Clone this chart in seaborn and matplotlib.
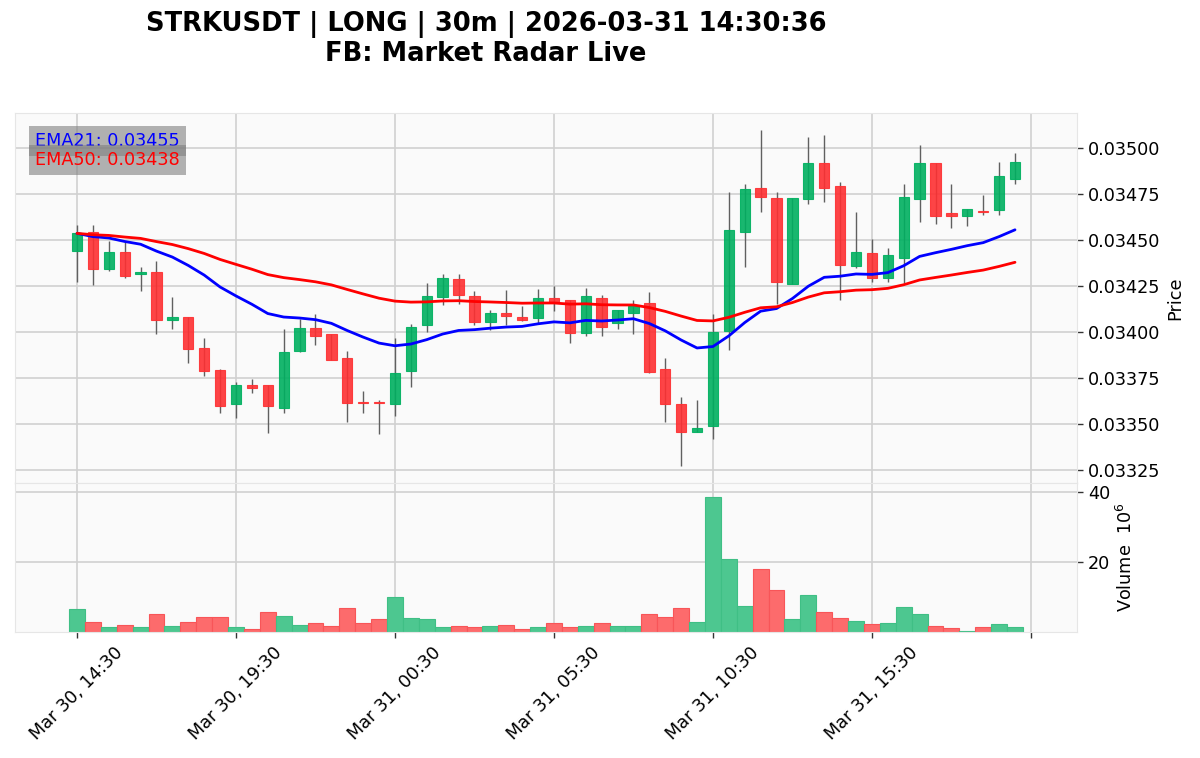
import numpy as np
import pandas as pd
import matplotlib
matplotlib.use("Agg")
import matplotlib.pyplot as plt
import seaborn as sns

# DATA (30m candles)
opens = [0.034441, 0.034545, 0.034340, 0.034436, 0.034313, 0.034325, 0.034066, 0.034082, 0.033912, 0.033792,
         0.033607, 0.033712, 0.033711, 0.033589, 0.033897, 0.034021, 0.033992, 0.033861, 0.033622, 0.033622,
         0.033607, 0.033788, 0.034039, 0.034191, 0.034286, 0.034195, 0.034057, 0.034101, 0.034080, 0.034075,
         0.034186, 0.034175, 0.033997, 0.034186, 0.034048, 0.034106, 0.034157, 0.033802, 0.033611, 0.033459,
         0.033489, 0.034006, 0.034541, 0.034784, 0.034726, 0.034262, 0.034723, 0.034917, 0.034795, 0.034360,
         0.034427, 0.034291, 0.034402, 0.034723, 0.034917, 0.034645, 0.034632, 0.034659, 0.034661, 0.034831]
highs = [0.034581, 0.034581, 0.034492, 0.034487, 0.034351, 0.034384, 0.034193, 0.034082, 0.033968, 0.033798,
         0.033729, 0.033748, 0.033711, 0.034019, 0.034070, 0.034099, 0.033992, 0.033897, 0.033678, 0.033629,
         0.033968, 0.034046, 0.034264, 0.034313, 0.034313, 0.034222, 0.034118, 0.034231, 0.034142, 0.034233,
         0.034251, 0.034175, 0.034242, 0.034204, 0.034120, 0.034173, 0.034215, 0.033858, 0.033649, 0.033629,
         0.034097, 0.034762, 0.034802, 0.035098, 0.034762, 0.034726, 0.035061, 0.035072, 0.034813, 0.034650,
         0.034505, 0.034454, 0.034802, 0.035013, 0.034917, 0.034802, 0.034668, 0.034744, 0.034925, 0.034973]
lows = [0.034273, 0.034255, 0.034333, 0.034294, 0.034224, 0.033992, 0.034019, 0.033830, 0.033761, 0.033562,
        0.033535, 0.033671, 0.033452, 0.033562, 0.033892, 0.033932, 0.033848, 0.033511, 0.033562, 0.033444,
        0.033544, 0.033703, 0.034001, 0.034146, 0.034153, 0.034041, 0.034012, 0.034037, 0.034059, 0.034052,
        0.034112, 0.033943, 0.033979, 0.033979, 0.034019, 0.033992, 0.033780, 0.033511, 0.033272, 0.033459,
        0.033421, 0.033903, 0.034356, 0.034653, 0.034155, 0.034262, 0.034694, 0.034705, 0.034175, 0.034346,
        0.034273, 0.034273, 0.034266, 0.034596, 0.034585, 0.034566, 0.034574, 0.034636, 0.034636, 0.034804]
closes = [0.034536, 0.034342, 0.034436, 0.034302, 0.034327, 0.034066, 0.034084, 0.033907, 0.033787, 0.033598,
          0.033711, 0.033698, 0.033598, 0.033892, 0.034022, 0.033979, 0.033848, 0.033617, 0.033616, 0.033616,
          0.033780, 0.034030, 0.034197, 0.034294, 0.034202, 0.034057, 0.034102, 0.034088, 0.034066, 0.034186,
          0.034161, 0.033997, 0.034197, 0.034026, 0.034120, 0.034142, 0.033786, 0.033610, 0.033459, 0.033481,
          0.034001, 0.034556, 0.034775, 0.034732, 0.034271, 0.034726, 0.034917, 0.034781, 0.034364, 0.034436,
          0.034291, 0.034418, 0.034735, 0.034917, 0.034632, 0.034632, 0.034668, 0.034650, 0.034846, 0.034925]
# volume in millions
volume_m = [6.70, 2.97, 1.63, 2.20, 1.44, 5.36, 1.91, 2.97, 4.50, 4.31,
            1.44, 1.05, 5.84, 4.79, 2.20, 2.68, 1.72, 6.99, 2.68, 3.83,
            10.05, 4.12, 3.83, 1.44, 1.72, 1.44, 1.72, 2.20, 0.86, 1.44,
            2.78, 1.63, 1.91, 2.68, 1.91, 1.91, 5.36, 4.50, 6.99, 2.97,
            38.57, 20.86, 7.66, 17.99, 11.96, 3.83, 10.62, 5.84, 4.12, 3.25,
            2.39, 2.68, 7.18, 5.36, 1.91, 1.15, 0.48, 1.44, 2.39, 1.44]
start_time = "2026-03-30 14:30"
title = "STRKUSDT | LONG | 30m | 2026-03-31 14:30:36\nFB: Market Radar Live"
ema21_label = "EMA21: 0.03455"
ema50_label = "EMA50: 0.03438"

# STYLE
UP, DOWN = "#00b060", "#fe3032"
VUP, VDOWN = "#4dc790", "#fd6b6c"
WICK = "#606060"
FS = 12.7

sns.set_style("whitegrid", {"axes.facecolor": "#fafafa", "grid.color": "#d0d0d0",
                            "axes.edgecolor": "#e6e6e6"})
plt.rcParams["font.family"] = ["DejaVu Sans"]
plt.rcParams.update({"text.color": "black", "axes.labelcolor": "black",
                     "xtick.color": "black", "ytick.color": "black"})

df = pd.DataFrame({"open": opens, "high": highs, "low": lows, "close": closes, "volume": volume_m})
df["idx"] = np.arange(len(df))
df["time"] = pd.date_range(start_time, periods=len(df), freq="30min")
df["ema21"] = df["close"].ewm(span=21, adjust=False).mean()
df["ema50"] = df["close"].ewm(span=50, adjust=False).mean()
up = (df["close"] >= df["open"]).values

fig = plt.figure(figsize=(12, 7.58), dpi=100)
ax = fig.add_axes([0.0125, 0.3628, 0.885, 0.4881])
axv = fig.add_axes([0.0125, 0.1662, 0.885, 0.1966], sharex=ax)

# candles
ax.vlines(df["idx"], df["low"], df["high"], color=WICK, linewidth=1.0, zorder=2)
body_col = np.where(up, UP, DOWN)
ax.bar(df["idx"], (df["close"] - df["open"]).abs(), bottom=df[["open", "close"]].min(axis=1),
       width=0.65, color=body_col, edgecolor=body_col, linewidth=0.8, alpha=0.9, zorder=3)

# EMAs
sns.lineplot(data=df, x="idx", y="ema21", color="blue", linewidth=2, ax=ax, zorder=4)
sns.lineplot(data=df, x="idx", y="ema50", color="red", linewidth=2, ax=ax, zorder=4)

box = dict(boxstyle="square,pad=0.35", facecolor="gray", alpha=0.6, edgecolor="none")
ax.text(0.019, 0.948, ema21_label, transform=ax.transAxes, color="blue", fontsize=FS, va="top",
        bbox=box, zorder=5)
ax.text(0.019, 0.898, ema50_label, transform=ax.transAxes, color="red", fontsize=FS, va="top",
        bbox=box, zorder=5)

# volume
vol_col = np.where(up, VUP, VDOWN)
vol_edge = np.where(up, "#3fbf85", "#f85558")
axv.bar(df["idx"], df["volume"], width=1.0, color=vol_col, edgecolor=vol_edge, linewidth=0.8)

# limits
lo, hi = df["low"].min(), df["high"].max()
pad = 0.05 * (hi - lo)
ax.set_ylim(lo - pad, hi + pad)
axv.set_ylim(0.3 * df["volume"].min(), 1.1 * df["volume"].max())
ax.set_xlim(-3.9, 62.9)

# axes cosmetics
for a in (ax, axv):
    a.grid(True, color="#d0d0d0", linewidth=1.2)
    a.yaxis.tick_right()
    a.yaxis.set_label_position("right")
    a.tick_params(axis="y", which="both", right=True, left=False, length=4, width=1,
                  color="#333333", labelsize=FS, pad=4)
    a.set_xlabel("")

ax.set_yticks(np.arange(0.03325, 0.035001, 0.00025))
ax.yaxis.set_major_formatter(plt.FormatStrFormatter("%.5f"))
ax.tick_params(axis="x", bottom=False, labelbottom=False)
ax.set_ylabel("Price", fontsize=FS)

axv.set_yticks([20, 40])
axv.set_ylabel("Volume  $10^{6}$", fontsize=FS)

ticks = list(range(0, 61, 10))
labels = [df["time"][i].strftime("%b %d, %H:%M") if i < len(df) else "" for i in ticks]
axv.set_xticks(ticks)
axv.set_xticklabels(labels, rotation=45, ha="center", fontsize=FS)
axv.tick_params(axis="x", bottom=True, length=4, width=1, color="#333333", pad=4)

fig.text(0.405, 0.948, title, ha="center", va="center", fontsize=18.5, fontweight="bold",
         linespacing=1.15, color="black")

fig.savefig("out.png", dpi=100)
